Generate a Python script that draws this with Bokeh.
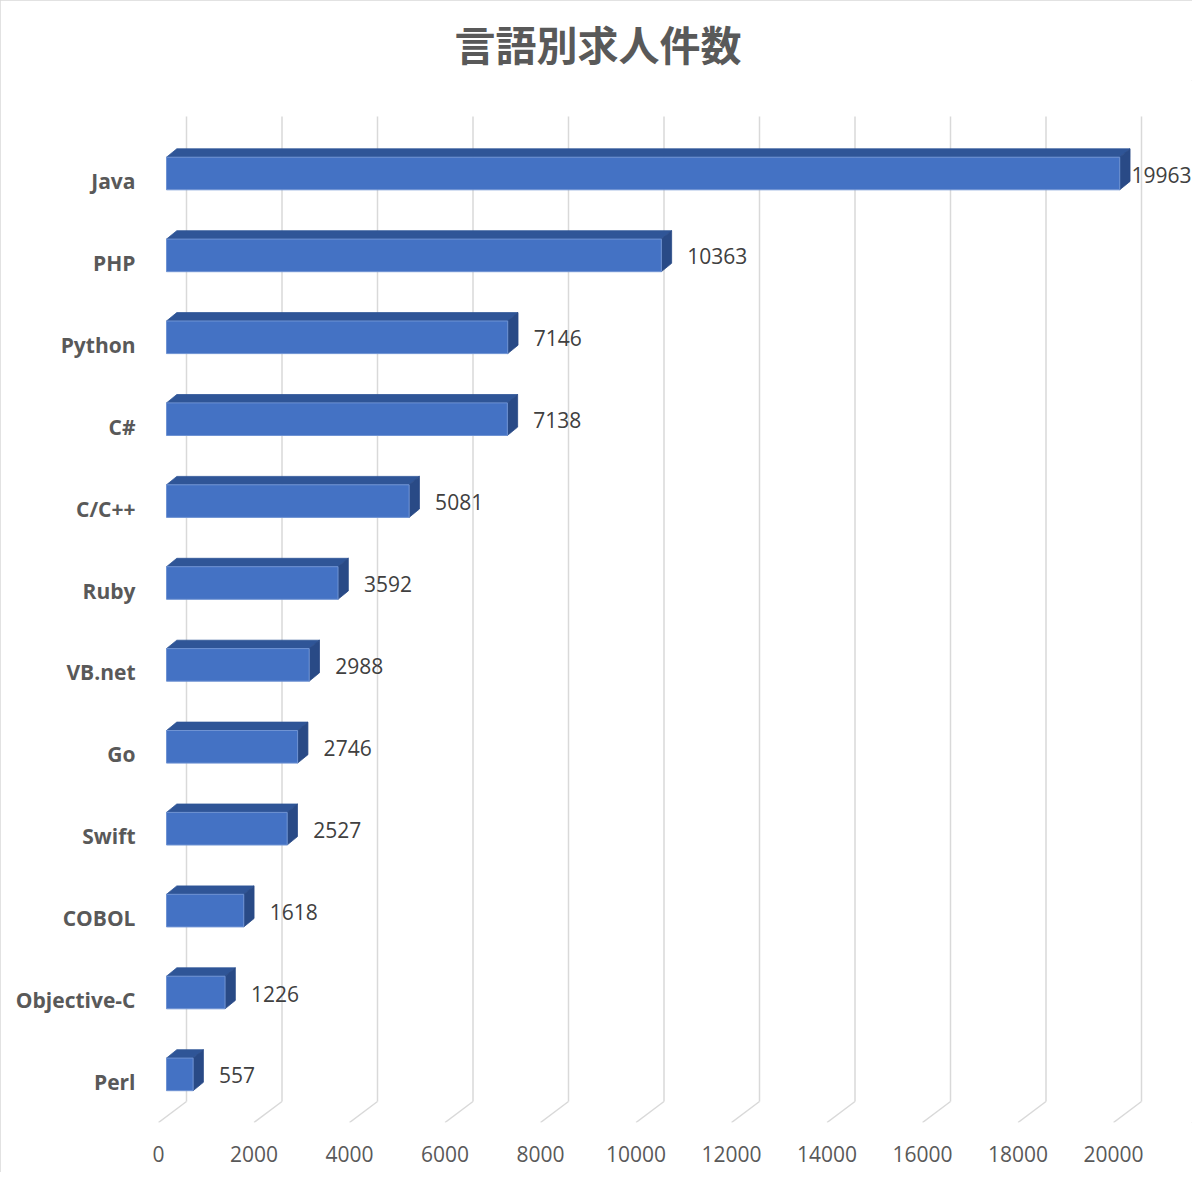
import numpy as np
from bokeh.plotting import figure
from bokeh.models import Range1d, FixedTicker, ColumnDataSource
from bokeh.core.properties import value
from bokeh.embed import file_html
from bokeh.resources import INLINE

# ---- data ----
categories = ["Java", "PHP", "Python", "C#", "C/C++", "Ruby", "VB.net", "Go",
              "Swift", "COBOL", "Objective-C", "Perl"]
counts = [19963, 10363, 7146, 7138, 5081, 3592, 2988, 2746, 2527, 1618, 1226, 557]
x_ticks = [0, 2000, 4000, 6000, 8000, 10000, 12000, 14000, 16000, 18000, 20000]
title_text = "言語別求人件数"

# ---- geometry (pixel -> data conversions) ----
PX_PER_UNIT = 0.04775      # horizontal scale
PX_PER_CAT = 81.9          # vertical spacing of categories
UX = 1.0 / PX_PER_UNIT
UY = 1.0 / PX_PER_CAT

W, H = 1192, 1172
FRAME_LEFT, FRAME_TOP = 150, 80
FRAME_RIGHT, FRAME_BOTTOM = 1192, 1122

X_ZERO = 158.0    # value 0 on the front edge of the floor
Y_CAT0 = 180.5    # centre of first category label
x_start = (FRAME_LEFT - X_ZERO) * UX
x_end = (FRAME_RIGHT - X_ZERO) * UX
y_top = (FRAME_TOP - Y_CAT0) * UY
y_bottom = (FRAME_BOTTOM - Y_CAT0) * UY

p = figure(width=W, height=H, output_backend="svg", toolbar_location=None,
           x_range=Range1d(x_start, x_end), y_range=Range1d(y_bottom, y_top),
           min_border_left=FRAME_LEFT, min_border_top=FRAME_TOP,
           min_border_right=W - FRAME_RIGHT, min_border_bottom=H - FRAME_BOTTOM)
p.styles = {"outline": "1px solid #d9d9d9", "outline-offset": "-1px"}
p.outline_line_color = None
p.background_fill_color = "white"
p.border_fill_color = "white"
p.xgrid.visible = False
p.ygrid.visible = False

# title
p.title.text = title_text
p.title.align = "left"
p.title.offset = 304
p.title.text_font = "Noto Sans CJK JP"
p.title.text_font_size = "41px"
p.title.text_font_style = "bold"
p.title.text_color = "#595959"
p.title.standoff = 16

# ---- back wall gridlines + floor diagonals ----
wall_dx = 28 * UX
k_wall_top = (116 - Y_CAT0) * UY
k_wall_bot = (1101 - Y_CAT0) * UY
k_floor_front = (1122 - Y_CAT0) * UY
xt = np.array(x_ticks, dtype=float)
p.segment(x0=xt + wall_dx, y0=[k_wall_top] * len(xt), x1=xt + wall_dx, y1=[k_wall_bot] * len(xt),
          line_color="#d9d9d9", line_width=1.5)
p.segment(x0=xt + wall_dx, y0=[k_wall_bot] * len(xt), x1=xt, y1=[k_floor_front] * len(xt),
          line_color="#d9d9d9", line_width=1.5)

# ---- 3D bars ----
vals = np.array(counts, dtype=float)
k = np.arange(len(categories), dtype=float)
X0 = 8 * UX
kb = k - 7.5 * UY
h = 32.6 * UY
dx = 10.3 * UX
dy = 8.4 * UY
ktop = kb - h / 2
kbot = kb + h / 2

top_xs = [[X0, X0 + v, X0 + v + dx, X0 + dx] for v in vals]
top_ys = [[t, t, t - dy, t - dy] for t in ktop]
side_xs = [[X0 + v, X0 + v + dx, X0 + v + dx, X0 + v] for v in vals]
side_ys = [[t, t - dy, b - dy, b] for t, b in zip(ktop, kbot)]

p.patches(xs=top_xs, ys=top_ys, fill_color="#2F5597", line_color="#2F5597", line_width=0.8)
p.patches(xs=side_xs, ys=side_ys, fill_color="#294A86", line_color="#294A86", line_width=0.8)
p.quad(left=[X0] * len(vals), right=X0 + vals, top=ktop, bottom=kbot,
       fill_color="#4472C4", line_color="#6F93D3", line_width=1)

# value labels
lab_x = np.minimum(X0 + vals + 26 * UX, (1131 - X_ZERO) * UX)
src = ColumnDataSource(dict(x=lab_x, y=kb + 1 * UY, t=[str(c) for c in counts]))
p.text(x="x", y="y", text="t", source=src, text_font=value("Open Sans"),
       text_font_size="21px", text_color="#404040", text_align="left", text_baseline="middle")

# ---- axes ----
xa = p.xaxis[0]
xa.ticker = FixedTicker(ticks=x_ticks)
xa.axis_line_color = None
xa.major_tick_line_color = None
xa.minor_tick_line_color = None
xa.major_tick_out = 0
xa.major_label_standoff = 23
xa.major_label_text_font = "Open Sans"
xa.major_label_text_font_size = "21px"
xa.major_label_text_color = "#595959"

ya = p.yaxis[0]
ya.ticker = FixedTicker(ticks=list(range(len(categories))))
ya.major_label_overrides = {i: c for i, c in enumerate(categories)}
ya.axis_line_color = None
ya.major_tick_line_color = None
ya.minor_tick_line_color = None
ya.major_tick_out = 0
ya.major_label_standoff = 15
ya.major_label_text_font = "Open Sans"
ya.major_label_text_font_size = "21px"
ya.major_label_text_font_style = "bold"
ya.major_label_text_color = "#595959"

open("out.html", "w").write(file_html(p, INLINE))
